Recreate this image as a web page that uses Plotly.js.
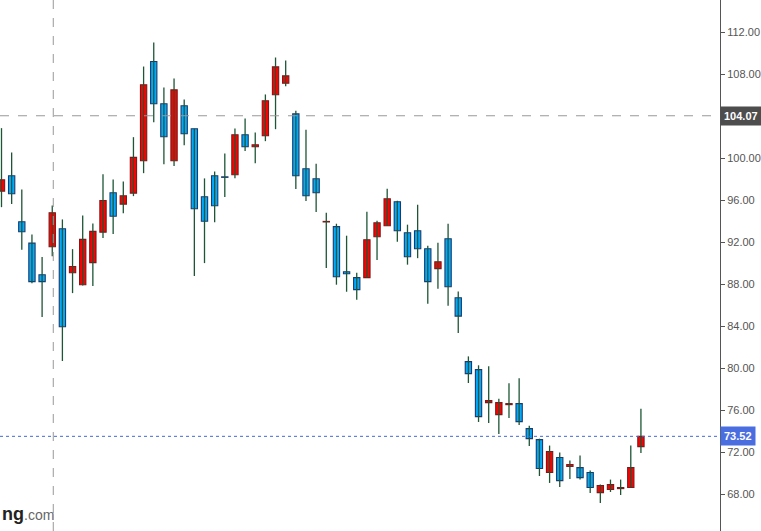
<!DOCTYPE html>
<html>
<head>
<meta charset="utf-8">
<script src="https://cdn.plot.ly/plotly-3.0.1.min.js"></script>
<style>html,body{margin:0;padding:0;background:#fff;}#chart{width:761px;height:531px;}</style>
</head>
<body>
<div id="chart"></div>
<script>
// Candle index (position on the time axis)
var candleIndex = [0,1,2,3,4,5,6,7,8,9,10,11,12,13,14,15,16,17,18,19,20,21,22,23,24,25,26,27,28,29,30,31,32,33,34,35,36,37,38,39,40,41,42,43,44,45,46,47,48,49,50,51,52,53,54,55,56,57,58,59,60,61,62,63];
var openPrices = [96.89,98.35,93.97,91.93,88.92,91.59,93.30,89.11,87.97,90.07,92.98,96.73,95.65,96.70,99.78,109.24,105.21,99.78,105.02,102.83,96.35,98.35,98.25,98.45,102.26,101.11,102.16,106.07,107.17,104.25,99.02,98.06,93.95,93.50,89.21,88.64,88.64,92.54,93.59,95.88,92.92,93.11,91.40,89.50,92.35,86.73,80.64,79.88,76.73,75.59,76.54,76.64,74.26,73.21,70.07,71.50,70.64,70.54,70.07,68.16,68.45,68.54,68.64,72.54];
var highPrices = [102.89,100.57,97.05,92.76,90.60,95.52,94.19,91.36,94.57,93.81,98.50,98.00,97.81,102.03,108.76,111.05,106.76,107.62,105.62,102.83,98.10,98.76,100.48,102.86,103.81,102.48,106.10,109.62,109.33,104.54,102.73,99.49,94.83,93.78,92.64,89.11,94.92,94.07,97.11,95.97,93.69,95.59,91.68,91.97,93.78,87.33,81.14,80.29,80.19,77.11,78.57,79.05,74.54,73.30,72.64,71.97,71.21,71.69,70.26,68.92,69.40,69.40,72.64,76.16];
var lowPrices = [95.36,95.65,91.30,88.12,84.89,90.67,80.70,87.17,87.90,87.84,92.41,92.79,94.79,96.41,98.60,103.46,99.46,99.27,101.27,88.79,90.03,93.93,96.32,98.12,100.70,99.55,101.65,102.79,106.89,97.08,95.94,94.89,89.55,87.97,87.30,86.54,88.64,90.32,93.59,92.07,89.88,90.50,86.16,87.59,85.97,83.36,78.60,74.89,74.79,73.74,75.27,74.60,72.60,69.74,69.08,68.70,69.46,69.40,68.13,67.17,68.22,67.93,68.64,71.93];
var closePrices = [97.97,96.64,93.02,88.26,88.26,94.83,83.97,89.71,92.29,93.05,96.00,94.50,96.44,100.10,107.02,105.21,102.07,106.54,102.35,95.21,94.02,95.50,98.20,102.26,101.11,101.30,105.50,108.73,107.87,98.35,96.44,96.73,94.00,88.73,89.02,87.50,92.26,93.87,96.16,93.11,90.64,91.40,88.26,90.16,87.78,84.98,79.50,75.40,76.92,76.73,76.64,74.92,73.30,70.45,72.07,69.30,70.83,69.59,68.64,68.83,68.92,68.64,70.54,73.52];
// 104.00 is hidden behind the 104.07 crosshair label in the reference
var yTickValues = [68,72,76,80,84,88,92,96,100,108,112];
var crosshairPrice = 104.07;
var crosshairIndex = 5.1;
var lastPrice = 73.52;
var watermarkText = '<b>ng</b><span style="color:#666;font-size:14px;font-weight:normal">.com</span>';

var upFill = '#ff0000', upBorder = '#7a1a1a';
var downFill = '#00aaff', downBorder = '#1c3a6a';
var wickColor = '#1d5535';

var wx = [], wy = [];
var base = [], height = [], fills = [], borders = [];
for (var i = 0; i < candleIndex.length; i++) {
  wx.push(candleIndex[i], candleIndex[i], null);
  wy.push(lowPrices[i], highPrices[i], null);
  var o = openPrices[i], c = closePrices[i];
  base.push(Math.min(o, c));
  height.push(Math.abs(c - o));
  var up = c >= o;
  fills.push(up ? upFill : downFill);
  borders.push(up ? upBorder : downBorder);
}

var wicks = {
  type: 'scatter', mode: 'lines', x: wx, y: wy,
  line: {color: wickColor, width: 1.3}, hoverinfo: 'skip', connectgaps: false
};
var bodies = {
  type: 'bar', x: candleIndex, y: height, base: base, width: 0.62,
  marker: {color: fills, line: {color: borders, width: 1.1}}, hoverinfo: 'skip'
};

var layout = {
  width: 761, height: 531,
  margin: {l: 0, r: 41, t: 0, b: 0, pad: 0},
  paper_bgcolor: '#ffffff', plot_bgcolor: '#ffffff',
  showlegend: false, hovermode: false,
  font: {family: 'Liberation Sans, Arial, sans-serif', size: 11, color: '#555'},
  xaxis: {range: [-0.148, 70.79], visible: false, showgrid: false, zeroline: false, fixedrange: true},
  yaxis: {
    side: 'right', range: [64.50, 115.10], tickvals: yTickValues, tickformat: '.2f',
    ticks: 'outside', ticklen: 4, tickcolor: '#555', tickwidth: 1,
    showline: true, linecolor: '#555', linewidth: 1, mirror: false,
    showgrid: false, zeroline: false, fixedrange: true,
    tickfont: {family: 'Liberation Sans, Arial, sans-serif', size: 11, color: '#555'}
  },
  shapes: [
    {type: 'line', xref: 'paper', yref: 'y', x0: 0, x1: 1, y0: crosshairPrice, y1: crosshairPrice,
     line: {color: '#999', width: 1, dash: 'dash'}, layer: 'above'},
    {type: 'line', xref: 'x', yref: 'paper', x0: crosshairIndex, x1: crosshairIndex, y0: 0, y1: 1,
     line: {color: '#999', width: 1, dash: 'dash'}, layer: 'above'},
    {type: 'line', xref: 'paper', yref: 'y', x0: 0, x1: 1, y0: lastPrice, y1: lastPrice,
     line: {color: '#4169d8', width: 1, dash: 'dot'}, layer: 'above'}
  ],
  annotations: [
    {xref: 'paper', yref: 'y', x: 1, y: crosshairPrice, xanchor: 'left', yanchor: 'middle',
     text: '<b>' + crosshairPrice.toFixed(2) + '</b>', showarrow: false, bgcolor: '#4d4d4d',
     font: {color: '#ffffff', size: 11, family: 'Liberation Sans, Arial, sans-serif'}, borderpad: 3},
    {xref: 'paper', yref: 'y', x: 1, y: lastPrice, xanchor: 'left', yanchor: 'middle',
     text: '<b>' + lastPrice.toFixed(2) + '</b>', showarrow: false, bgcolor: '#4a6ee0',
     font: {color: '#ffffff', size: 11, family: 'Liberation Sans, Arial, sans-serif'}, borderpad: 3},
    {xref: 'paper', yref: 'paper', x: 0, y: 0.032, xanchor: 'left', yanchor: 'middle',
     text: watermarkText, showarrow: false,
     font: {color: '#222', size: 18, family: 'Liberation Sans, Arial, sans-serif'}}
  ]
};

Plotly.newPlot('chart', [wicks, bodies], layout, {displayModeBar: false, staticPlot: true});
</script>
</body>
</html>
